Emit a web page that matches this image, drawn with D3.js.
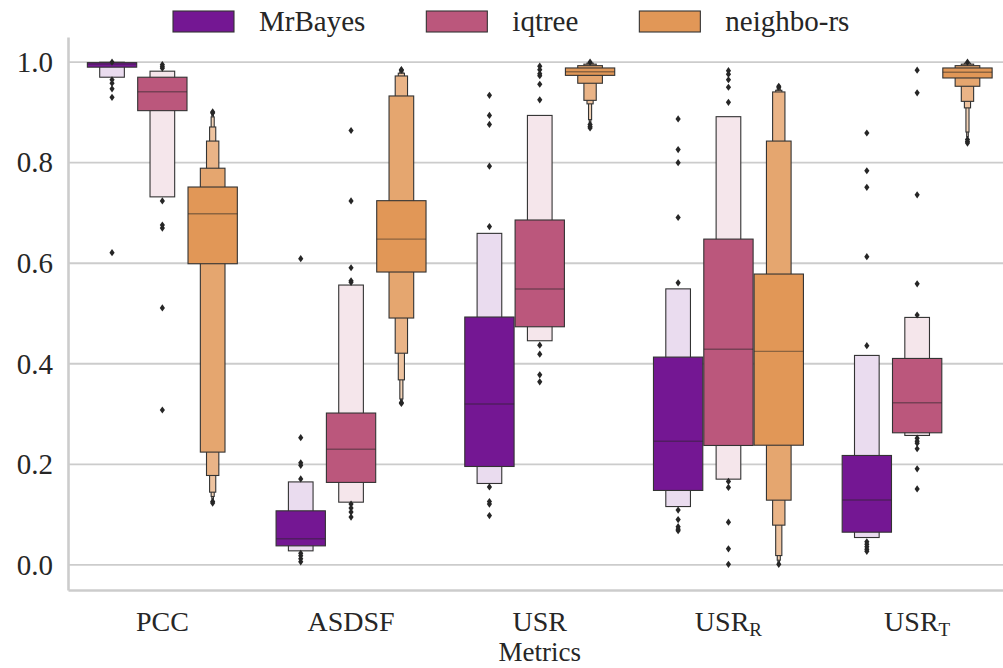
<!DOCTYPE html>
<html>
<head>
<meta charset="utf-8">
<script src="https://cdn.jsdelivr.net/npm/d3@7"></script>
<style>
  body { margin: 0; background: #fff; }
  svg { display: block; }
</style>
</head>
<body>
<svg id="chart" width="1003" height="668"></svg>
<script>
// ---- data -------------------------------------------------------------
const metrics = ["PCC", "ASDSF", "USR", "USR_R", "USR_T"];
const metricLabels = [["PCC", ""], ["ASDSF", ""], ["USR", ""], ["USR", "R"], ["USR", "T"]];
const methods = ["MrBayes", "iqtree", "neighbo-rs"];
const methodColors = ["#741793", "#bb577c", "#e19757"];
const yTicks = [0, 0.2, 0.4, 0.6, 0.8, 1.0];

// Letter-value boxes per metric, innermost first, as [low, high]
const mrbayesMedian = [0.996, 0.052, 0.320, 0.246, 0.129];
const mrbayesBoxes = [
  [[0.990, 0.999], [0.970, 0.9998]],
  [[0.0378, 0.1075], [0.0279, 0.165]],
  [[0.1957, 0.493], [0.1619, 0.6594]],
  [[0.148, 0.4133], [0.116, 0.549]],
  [[0.065, 0.2176], [0.0544, 0.4166]]
];
const mrbayesOutliers = [
  [1.0, 0.965, 0.958, 0.947, 0.930, 0.621],
  [0.609, 0.253, 0.203, 0.198, 0.171, 0.023, 0.018, 0.012, 0.006],
  [0.934, 0.894, 0.876, 0.793, 0.673, 0.155, 0.126, 0.121, 0.098],
  [0.887, 0.826, 0.800, 0.691, 0.561, 0.109, 0.090, 0.076, 0.071, 0.068],
  [0.859, 0.784, 0.751, 0.613, 0.436, 0.046, 0.041, 0.036, 0.031, 0.027]
];

const iqtreeMedian = [0.941, 0.230, 0.5486, 0.429, 0.3224];
const iqtreeBoxes = [
  [[0.9035, 0.970], [0.732, 0.982]],
  [[0.164, 0.302], [0.1247, 0.5566]],
  [[0.4736, 0.686], [0.4458, 0.894]],
  [[0.2375, 0.648], [0.1705, 0.8915]],
  [[0.2627, 0.4106], [0.2574, 0.4922]]
];
const iqtreeOutliers = [
  [0.995, 0.991, 0.988, 0.724, 0.676, 0.670, 0.511, 0.308],
  [0.864, 0.724, 0.591, 0.565, 0.562, 0.121, 0.113, 0.105, 0.095],
  [0.992, 0.985, 0.977, 0.973, 0.956, 0.925, 0.437, 0.419, 0.378, 0.364],
  [0.983, 0.976, 0.965, 0.950, 0.920, 0.166, 0.154, 0.085, 0.032, 0.001],
  [0.984, 0.939, 0.736, 0.559, 0.497, 0.252, 0.246, 0.242, 0.231, 0.191, 0.151]
];

const neighborsMedian = [0.6985, 0.648, 0.981, 0.4246, 0.980];
const neighborsBoxes = [
  [[0.599, 0.7516], [0.2243, 0.789], [0.1778, 0.843], [0.1446, 0.871], [0.136, 0.891], [0.131, 0.896], [0.129, 0.898]],
  [[0.5825, 0.7244], [0.491, 0.9327], [0.421, 0.9725], [0.368, 0.978], [0.330, 0.981], [0.327, 0.982], [0.325, 0.983]],
  [[0.9737, 0.9884], [0.958, 0.993], [0.924, 0.996], [0.917, 0.998], [0.8856, 0.999], [0.880, 0.9995], [0.878, 0.9998]],
  [[0.238, 0.5785], [0.1287, 0.843], [0.079, 0.9407], [0.0185, 0.944], [0.0093, 0.947], [0.004, 0.948], [0.002, 0.949]],
  [[0.9685, 0.9884], [0.952, 0.993], [0.922, 0.996], [0.909, 0.998], [0.861, 0.999], [0.852, 0.9995], [0.849, 0.9998]]
];
const neighborsOutliers = [
  [0.901, 0.899, 0.126, 0.123],
  [0.985, 0.984, 0.323, 0.321],
  [1.0, 0.876, 0.872, 0.869],
  [0.952, 0.950, 0.001],
  [1.0, 0.846, 0.842, 0.839]
];

const medians = [mrbayesMedian, iqtreeMedian, neighborsMedian];
const boxes = [mrbayesBoxes, iqtreeBoxes, neighborsBoxes];
const outliers = [mrbayesOutliers, iqtreeOutliers, neighborsOutliers];

// ---- layout -----------------------------------------------------------
const FONT = "'Liberation Serif', 'DejaVu Serif', serif";
const TEXT_COLOR = "#262626";
const svg = d3.select("#chart");
const plotLeft = 68, plotRight = 1011.5, plotTop = 37, plotBottom = 590;

const x = d3.scaleBand().domain(metrics).range([plotLeft, plotRight]);
const hue = d3.scaleBand().domain(methods)
  .range([-x.bandwidth() * 0.4, x.bandwidth() * 0.4]);
const y = d3.scaleLinear().domain([-0.05, 1.05]).range([plotBottom, plotTop]);

const gridColor = "#cccccc";
const edgeColor = "#333333";

// grid
svg.append("g").selectAll("line").data(yTicks).join("line")
  .attr("x1", plotLeft).attr("x2", 1003)
  .attr("y1", d => y(d)).attr("y2", d => y(d))
  .attr("stroke", gridColor).attr("stroke-width", 1.8);

// y axis
const yAxis = svg.append("g").attr("transform", `translate(${plotLeft},0)`)
  .call(d3.axisLeft(y).tickValues(yTicks).tickFormat(d3.format(".1f"))
    .tickSize(0).tickPadding(15));
yAxis.attr("font-family", FONT).attr("font-size", 29);
yAxis.select(".domain").attr("stroke", gridColor).attr("stroke-width", 2.6);
yAxis.selectAll("text").attr("fill", TEXT_COLOR);

// x axis
const xAxis = svg.append("g").attr("transform", `translate(0,${plotBottom})`)
  .call(d3.axisBottom(x).tickSize(0).tickPadding(0));
xAxis.attr("font-family", FONT).attr("font-size", 28);
xAxis.select(".domain").attr("stroke", gridColor).attr("stroke-width", 2.6);
xAxis.selectAll(".tick text")
  .attr("fill", TEXT_COLOR)
  .attr("dy", null).attr("y", 41)
  .each(function (d, i) {
    const t = d3.select(this).text(null);
    t.append("tspan").text(metricLabels[i][0]);
    if (metricLabels[i][1]) {
      t.append("tspan").attr("font-size", 19).attr("dy", 5).text(metricLabels[i][1]);
    }
  });

svg.append("text").attr("x", (plotLeft + plotRight) / 2).attr("y", 661)
  .attr("text-anchor", "middle").attr("font-family", FONT).attr("font-size", 27)
  .attr("fill", TEXT_COLOR).text("Metrics");

// ---- letter-value boxes ---------------------------------------------
const boxW = hue.bandwidth() * 0.98;
const diamond = "M0,-3.6L2.6,0L0,3.6L-2.6,0Z";
const plot = svg.append("g");

metrics.forEach((metric, ci) => {
  methods.forEach((method, mi) => {
    const cx = x(metric) + x.bandwidth() / 2 + hue(method) + hue.bandwidth() / 2;
    const levels = boxes[mi][ci];
    const k = levels.length;
    const base = methodColors[mi];
    const lightest = d3.interpolateRgb(base, "#ffffff")(0.85);
    const g = plot.append("g");
    // outermost first so inner boxes sit on top
    for (let i = k - 1; i >= 0; i--) {
      const [lo, hi] = levels[i];
      const w = boxW * Math.pow(0.5, i);
      g.append("rect")
        .attr("x", cx - w / 2).attr("width", w)
        .attr("y", y(hi)).attr("height", Math.max(0.3, y(lo) - y(hi)))
        .attr("fill", d3.interpolateRgb(base, lightest)(k > 1 ? i / (k - 1) : 0))
        .attr("stroke", edgeColor).attr("stroke-width", 1.1);
    }
    g.append("line")
      .attr("x1", cx - boxW / 2).attr("x2", cx + boxW / 2)
      .attr("y1", y(medians[mi][ci])).attr("y2", y(medians[mi][ci]))
      .attr("stroke", "rgba(38,38,38,0.45)").attr("stroke-width", 1.4);
    g.selectAll("path").data(outliers[mi][ci]).join("path")
      .attr("d", diamond)
      .attr("transform", d => `translate(${cx},${y(d)})`)
      .attr("fill", "#262626");
  });
});

// ---- legend -----------------------------------------------------------
const legend = svg.append("g").attr("font-family", FONT).attr("font-size", 29);
let lx = 173;
methods.forEach((method, mi) => {
  legend.append("rect").attr("x", lx).attr("y", 11).attr("width", 61).attr("height", 21)
    .attr("fill", methodColors[mi]).attr("stroke", edgeColor).attr("stroke-width", 1.1);
  const t = legend.append("text").attr("x", lx + 61 + 25).attr("y", 31)
    .attr("fill", TEXT_COLOR).text(method);
  lx += 61 + 25 + t.node().getComputedTextLength() + 61;
});
</script>
</body>
</html>
